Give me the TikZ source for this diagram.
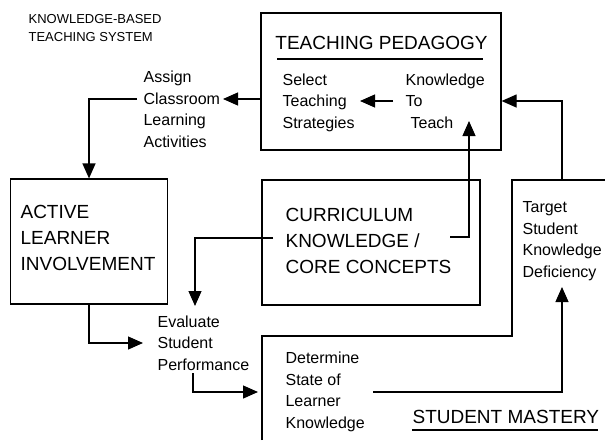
\documentclass[tikz,border=0pt]{standalone}
\usepackage{fontspec}
\setmainfont{Liberation Sans}
\usetikzlibrary{arrows.meta}

\begin{document}
\begin{tikzpicture}[x = 1pt, y = -1pt, line width = 1.2pt,
  box/.style = {draw, rectangle, inner sep = 0pt},
  bigtext/.style = {anchor = base west, align = left, inner sep = 0pt, font = \fontsize{19}{26}\selectfont},
  midtext/.style = {anchor = base west, align = left, inner sep = 0pt, font = \fontsize{16}{21.5}\selectfont},
  smalltext/.style = {anchor = base west, align = left, inner sep = 0pt, font = \fontsize{13}{18.5}\selectfont},
  conn/.style = {-{Triangle[length = 15pt, width = 13pt]}}]

\useasboundingbox (0, 0) rectangle (605, 440);

\node[box, minimum width = 240, minimum height = 137] (ped) at (381, 81.5) {};
\node[box, minimum width = 218, minimum height = 125] (cur) at (371, 242.5) {};
\node[box, minimum width = 157, minimum height = 125] (act) at (89, 241.5) {};

\draw (262, 440) -- (262, 336) -- (512, 336) -- (512, 180) -- (605, 180);

\draw (277, 59) -- (483, 59);
\draw (412, 430) -- (598, 430);

\node[smalltext] (title) at (28, 41.5) {KNOWLEDGE-BASED\\TEACHING SYSTEM};
\node[bigtext, anchor = base] (pedtitle) at (381.5, 49) {TEACHING PEDAGOGY};
\node[midtext] (select) at (282, 128) {Select\\Teaching\\Strategies};
\node[midtext] (know) at (405, 128) {Knowledge\\To\\\hspace*{5pt}Teach};
\node[midtext] (assign) at (143, 147) {Assign\\Classroom\\Learning\\Activities};
\node[bigtext] (active) at (20, 270) {ACTIVE\\LEARNER\\INVOLVEMENT};
\node[bigtext] (curtext) at (285, 273) {CURRICULUM\\KNOWLEDGE /\\CORE CONCEPTS};
\node[midtext] (eval) at (157, 370) {Evaluate\\Student\\Performance};
\node[midtext] (determ) at (285, 428) {Determine\\State of\\Learner\\Knowledge};
\node[midtext] (target) at (522, 277) {Target\\Student\\Knowledge\\Deficiency};
\node[bigtext] (mastery) at (412, 423) {STUDENT MASTERY};

\coordinate (assignIn) at (223, 99);
\coordinate (assignOut) at (137, 99);
\coordinate (knowOut) at (393, 101);
\coordinate (selectIn) at (360, 101);
\coordinate (curRight) at (450, 237);
\coordinate (knowIn) at (469, 121);
\coordinate (curLeft) at (273, 238);
\coordinate (evalIn) at (195, 306);
\coordinate (evalLeft) at (143, 343);
\coordinate (evalOut) at (193, 373);
\coordinate (masteryIn) at (258, 392);
\coordinate (determOut) at (373, 392);
\coordinate (targetIn) at (562, 287);
\coordinate (masteryTop) at (562, 180);

\draw[conn] (ped.west |- assignIn) -- (assignIn);
\draw[conn] (assignOut) -| (act.north);
\draw[conn] (knowOut) -- (selectIn);
\draw[conn] (curRight) -| (knowIn);
\draw[conn] (curLeft) -| (evalIn);
\draw[conn] (act.south) |- (evalLeft);
\draw[conn] (evalOut) |- (masteryIn);
\draw[conn] (determOut) -| (targetIn);
\draw[conn] (masteryTop) |- (ped.east |- selectIn);

\end{tikzpicture}
\end{document}
